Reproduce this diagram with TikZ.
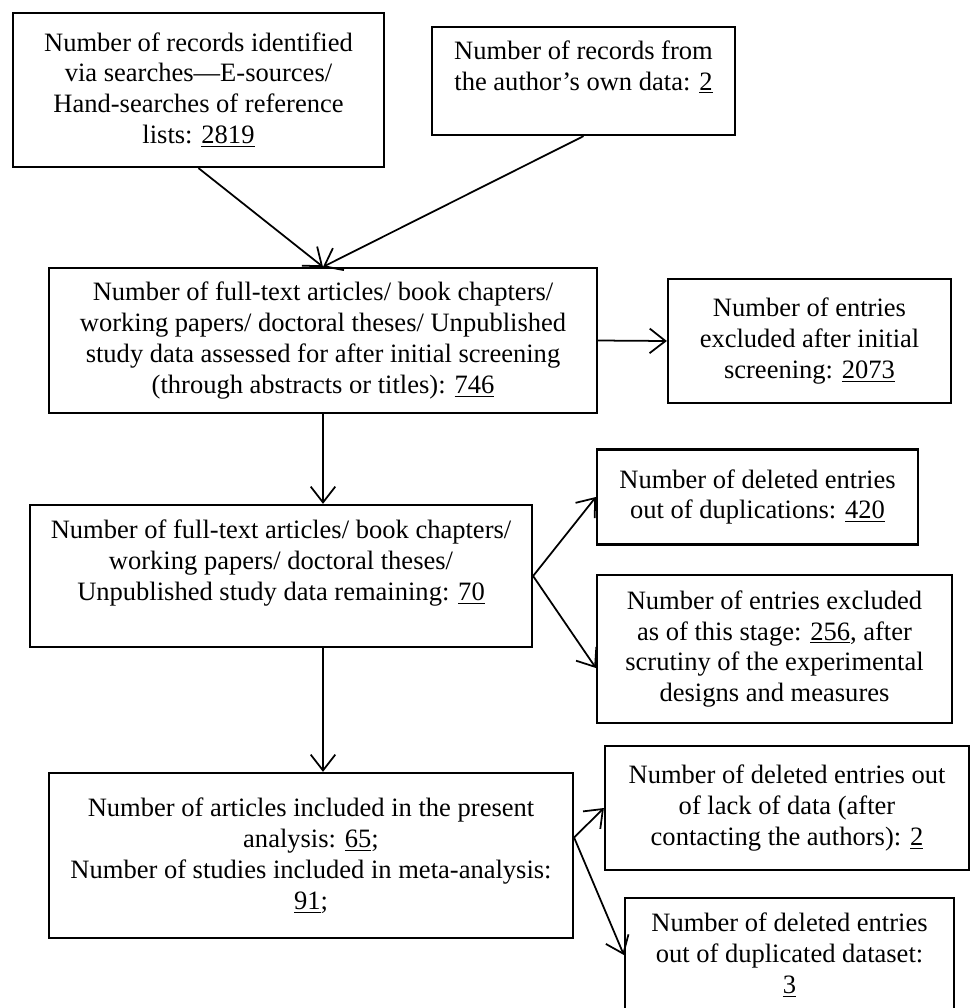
\documentclass[tikz,border=0pt]{standalone}
\usepackage{fontspec}
\setmainfont{Liberation Serif}
\usetikzlibrary{positioning,arrows.meta}
\tikzset{
  flowbox/.style = {draw, line width=1.3pt, align=center, inner sep=2pt,
                    font=\fontsize{15.1pt}{17.6pt}\selectfont},
  flowarrow/.style = {line width=1pt, -{Straight Barb[length=9pt,width=14pt,line width=1pt]}}
}
\begin{document}
\begin{tikzpicture}[x=0.02cm,y=-0.02cm]
        \useasboundingbox (0,0) rectangle (971,1008);

        % sources
        \node[flowbox, minimum width=7.42cm, minimum height=3.08cm] (search) at (198.5,90)
            {Number of records identified\\via searches---E-sources/\\Hand-searches of reference\\lists: \underline{2819}};
        \node[flowbox, minimum width=6.06cm, minimum height=2.16cm] (own) at (583.5,81)
            {Number of records from\\the author's own data: \underline{2}\\\mbox{}};

        % screening
        \node[flowbox, minimum width=10.96cm, minimum height=2.90cm] (assessed) at (323,340.5)
            {Number of full-text articles/ book chapters/\\working papers/ doctoral theses/ Unpublished\\study data assessed for after initial screening\\(through abstracts or titles): \underline{746}};
        \node[flowbox, minimum width=5.66cm, minimum height=2.48cm] (initexcl) at (809.5,341)
            {Number of entries\\excluded after initial\\screening: \underline{2073}};

        % remaining
        \node[flowbox, minimum width=6.42cm, minimum height=1.90cm] (dupl) at (757.5,497)
            {Number of deleted entries\\out of duplications: \underline{420}};
        \node[flowbox, minimum width=10.04cm, minimum height=2.84cm] (remain) at (281,576)
            {Number of full-text articles/ book chapters/\\working papers/ doctoral theses/\\Unpublished study data remaining: \underline{70}\\\mbox{}};
        \node[flowbox, minimum width=7.10cm, minimum height=2.96cm] (scrut) at (774.5,649)
            {Number of entries excluded\\as of this stage: \underline{256}, after\\scrutiny of the experimental\\designs and measures};

        % included
        \node[flowbox, minimum width=10.48cm, minimum height=3.30cm] (incl) at (311,855.5)
            {Number of articles included in the present\\analysis: \underline{65};\\Number of studies included in meta-analysis:\\\underline{91};};
        \node[flowbox, minimum width=7.28cm, minimum height=2.48cm] (lack) at (787,808)
            {Number of deleted entries out\\of lack of data (after\\contacting the authors): \underline{2}};
        \node[flowbox, minimum width=6.58cm, minimum height=2.28cm] (dset) at (789.5,955)
            {Number of deleted entries\\out of duplicated dataset:\\\underline{3}};

        \draw[flowarrow] (search.south) -- (assessed.north);
        \draw[flowarrow] (own.south) -- (assessed.north);
        \draw[flowarrow] (assessed.east) -- (initexcl.west);
        \draw[flowarrow] (assessed.south) -- (assessed.south |- remain.north);
        \draw[flowarrow] (remain.east) -- (dupl.west);
        \draw[flowarrow] (remain.east) -- ([yshift=-0.38cm]scrut.west);
        \draw[flowarrow] (assessed.south |- remain.south) -- (assessed.south |- incl.north);
        \draw[flowarrow] ([yshift=0.36cm]incl.east) -- (lack.west);
        \draw[flowarrow] ([yshift=0.36cm]incl.east) -- (dset.west);
    \end{tikzpicture}
\end{document}
